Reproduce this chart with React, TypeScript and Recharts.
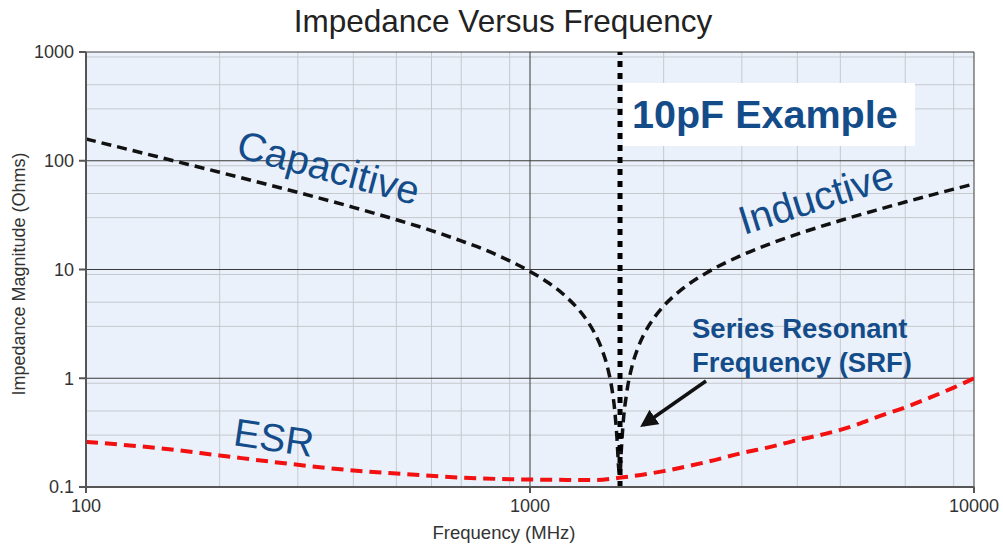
import React from 'react';
import { ComposedChart, Line, XAxis, YAxis, CartesianGrid, ReferenceLine } from 'recharts';

const xTicks = [100, 1000, 10000];
const yTicks = [0.1, 1, 10, 100, 1000];
const minorX = [200, 300, 400, 500, 600, 700, 800, 900, 2000, 3000, 4000, 5000, 6000, 7000, 8000, 9000];
const minorY = [0.2, 0.3, 0.4, 0.5, 0.6, 0.7, 0.8, 0.9, 2, 3, 4, 5, 6, 7, 8, 9, 20, 30, 40, 50, 60, 70, 80, 90, 200, 300, 400, 500, 600, 700, 800, 900];
const majorX = [1000, 10000];
const majorY = [1, 10, 100, 1000];

// |Z| of the 10pF capacitor (capacitive branch, dip at SRF, inductive branch)
const impFreq = [100, 130, 170, 200, 250, 300, 400, 500, 600, 700, 800, 900, 1000, 1100, 1200, 1300, 1350, 1400, 1450, 1500, 1530, 1550, 1570, 1585, 1595, 1605, 1620, 1650, 1700, 1750, 1800, 1900, 2000, 2200, 2500, 3000, 3500, 4000, 5000, 6000, 7000, 8000, 9000, 10000];
const impOhms = [158.5, 121.6, 92.5, 78.3, 62.1, 51.2, 37.3, 28.7, 22.8, 18.3, 14.9, 12.0, 9.6, 7.56, 5.72, 4.07, 3.31, 2.57, 1.87, 1.19, 0.79, 0.53, 0.28, 0.145, 0.13, 0.21, 0.375, 0.72, 1.32, 1.9, 2.47, 3.56, 4.61, 6.59, 9.34, 13.54, 17.45, 21.15, 28.2, 35.0, 41.7, 48.3, 54.8, 61.2];

// ESR
const esrFreq = [100, 150, 200, 300, 400, 500, 700, 1000, 1400, 1600, 2000, 2500, 3000, 3500, 4000, 4500, 5000, 5500, 6000, 7000, 8000, 9000, 10000];
const esrOhms = [0.26, 0.225, 0.195, 0.16, 0.142, 0.133, 0.122, 0.117, 0.116, 0.122, 0.14, 0.17, 0.205, 0.235, 0.27, 0.3, 0.335, 0.38, 0.435, 0.54, 0.67, 0.82, 1.0];

const srf = 1595;

const impData = impFreq.map((f, i) => ({ f, z: impOhms[i] }));
const esrData = esrFreq.map((f, i) => ({ f, z: esrOhms[i] }));

const FONT = '"Liberation Sans", Arial, sans-serif';
const BLUE = '#144C8A';

export default function App() {
  return (
    <div style={{ position: 'absolute', left: 0, top: 0, width: 1003, height: 544, background: '#fff', fontFamily: FONT }}>
      <ComposedChart width={1003} height={544} margin={{ top: 52, right: 29, bottom: 0, left: 0 }}>
        <CartesianGrid
          horizontalValues={minorY}
          verticalValues={minorX}
          stroke="#c6c9ce"
          strokeWidth={1}
          fill="#eaf1fb"
          fillOpacity={1}
        />
        <CartesianGrid horizontalValues={majorY} verticalValues={majorX} stroke="#3a3a3a" strokeWidth={1} />
        <XAxis
          dataKey="f"
          type="number"
          scale="log"
          domain={[100, 10000]}
          ticks={xTicks}
          allowDataOverflow
          height={57}
          stroke="#555"
          strokeWidth={2}
          tickSize={6}
          tick={{ fill: '#333', fontSize: 18, fontFamily: FONT }}
          tickMargin={6}
        />
        <YAxis
          type="number"
          scale="log"
          domain={[0.1, 1000]}
          ticks={yTicks}
          allowDataOverflow
          width={86}
          stroke="#555"
          strokeWidth={2}
          tickSize={7}
          tick={{ fill: '#333', fontSize: 18, fontFamily: FONT }}
          tickMargin={5}
        />
        <Line
          data={esrData}
          dataKey="z"
          type="monotone"
          stroke="#f21010"
          strokeWidth={4}
          strokeDasharray="12 7"
          dot={false}
          isAnimationActive={false}
        />
        <Line
          data={impData}
          dataKey="z"
          type="monotone"
          stroke="#111"
          strokeWidth={3.5}
          strokeDasharray="10 6"
          dot={false}
          isAnimationActive={false}
        />
        <ReferenceLine x={srf} stroke="#000" strokeWidth={5} strokeDasharray="6 6" />
      </ComposedChart>
      <svg width={1003} height={544} style={{ position: 'absolute', left: 0, top: 0, pointerEvents: 'none' }}>
        <defs>
          <marker id="ah" markerWidth="5" markerHeight="5" refX="4" refY="2.5" orient="auto" markerUnits="strokeWidth">
            <path d="M0,0 L5,2.5 L0,5 z" fill="#111" />
          </marker>
        </defs>
        <text x={503} y={32} textAnchor="middle" fontSize={31.5} fill="#222" fontFamily={FONT}>
          Impedance Versus Frequency
        </text>
        <text
          x={0}
          y={0}
          transform="translate(25,274) rotate(-90)"
          textAnchor="middle"
          fontSize={18}
          fill="#333"
          fontFamily={FONT}
        >
          Impedance Magnitude (Ohms)
        </text>
        <text x={504} y={539} textAnchor="middle" fontSize={18.5} fill="#333" fontFamily={FONT}>
          Frequency (MHz)
        </text>
        <rect x={623} y={83} width={292} height={63} fill="#fff" />
        <text x={632} y={128} fontSize={39.5} fontWeight="bold" fill={BLUE} fontFamily={FONT}>
          10pF Example
        </text>
        <text x={325} y={181} transform="rotate(15 325 181)" textAnchor="middle" fontSize={40} fill={BLUE} fontFamily={FONT}>
          Capacitive
        </text>
        <text x={820} y={211} transform="rotate(-17.5 820 211)" textAnchor="middle" fontSize={40} fill={BLUE} fontFamily={FONT}>
          Inductive
        </text>
        <text x={272} y={451} transform="rotate(8.5 272 451)" textAnchor="middle" fontSize={39} fill={BLUE} fontFamily={FONT}>
          ESR
        </text>
        <text x={692} y={338} fontSize={27.5} fontWeight="bold" fill={BLUE} fontFamily={FONT}>
          Series Resonant
        </text>
        <text x={692} y={372} fontSize={27.5} fontWeight="bold" fill={BLUE} fontFamily={FONT}>
          Frequency (SRF)
        </text>
        <line x1={706} y1={381} x2={643} y2={425} stroke="#111" strokeWidth={3.5} markerEnd="url(#ah)" />
      </svg>
    </div>
  );
}
